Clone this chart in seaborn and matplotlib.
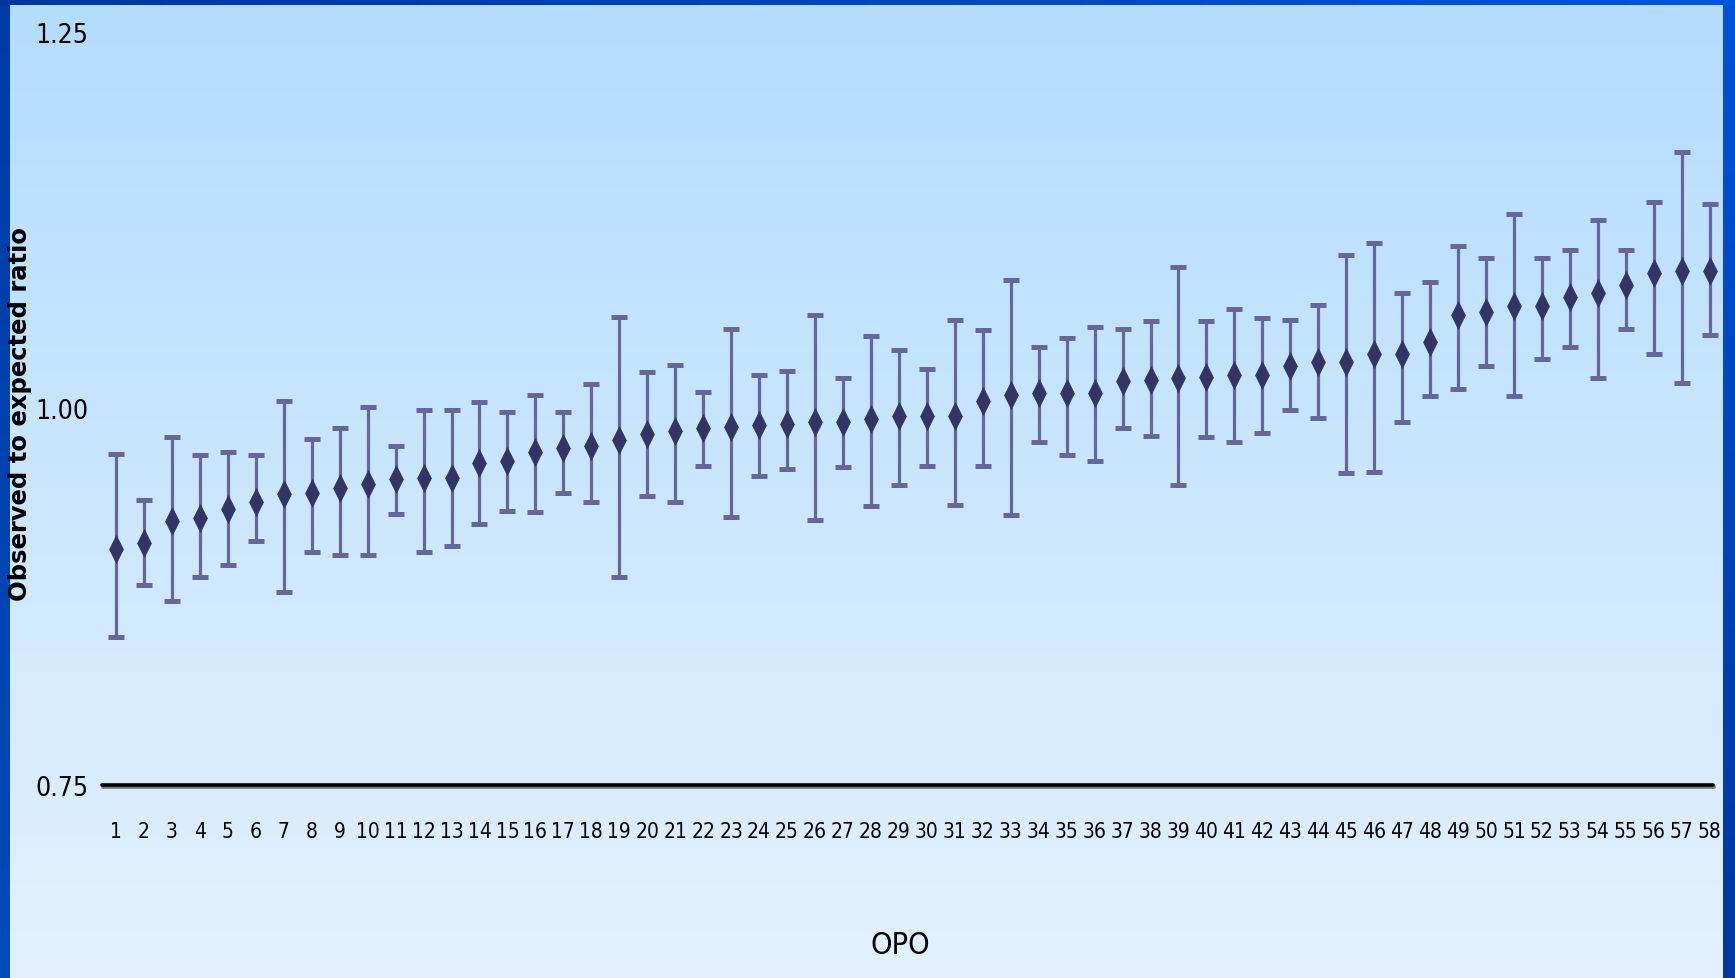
import numpy as np
import pandas as pd
import matplotlib
matplotlib.use("Agg")
import matplotlib.pyplot as plt
import matplotlib.patheffects as pe
from matplotlib.path import Path
from matplotlib import font_manager as fm
import seaborn as sns

# ---------------- data ----------------
opo = list(range(1, 59))
ratio = [0.907, 0.911, 0.925, 0.927, 0.933, 0.938, 0.943, 0.944, 0.947, 0.950,
         0.953, 0.954, 0.954, 0.964, 0.965, 0.971, 0.974, 0.975, 0.979, 0.983,
         0.985, 0.987, 0.988, 0.989, 0.990, 0.991, 0.991, 0.993, 0.995, 0.995,
         0.995, 1.005, 1.009, 1.010, 1.010, 1.010, 1.018, 1.019, 1.020, 1.021,
         1.022, 1.022, 1.028, 1.031, 1.031, 1.036, 1.036, 1.044, 1.062, 1.064,
         1.068, 1.068, 1.074, 1.077, 1.082, 1.090, 1.091, 1.091]
upper = [0.970, 0.939, 0.981, 0.969, 0.971, 0.969, 1.005, 0.980, 0.987, 1.001,
         0.975, 0.999, 0.999, 1.004, 0.998, 1.009, 0.998, 1.016, 1.061, 1.024,
         1.029, 1.011, 1.053, 1.022, 1.025, 1.062, 1.020, 1.048, 1.039, 1.026,
         1.059, 1.052, 1.085, 1.041, 1.047, 1.054, 1.053, 1.058, 1.094, 1.058,
         1.066, 1.060, 1.059, 1.069, 1.102, 1.110, 1.077, 1.084, 1.108, 1.100,
         1.129, 1.100, 1.105, 1.125, 1.105, 1.137, 1.170, 1.136]
lower = [0.848, 0.883, 0.872, 0.888, 0.896, 0.912, 0.878, 0.905, 0.903, 0.903,
         0.930, 0.905, 0.909, 0.923, 0.932, 0.931, 0.944, 0.938, 0.888, 0.942,
         0.938, 0.962, 0.928, 0.955, 0.960, 0.926, 0.961, 0.935, 0.949, 0.962,
         0.936, 0.962, 0.929, 0.978, 0.969, 0.965, 0.987, 0.982, 0.949, 0.981,
         0.978, 0.984, 0.999, 0.994, 0.957, 0.958, 0.991, 1.008, 1.013, 1.028,
         1.008, 1.033, 1.041, 1.020, 1.053, 1.036, 1.017, 1.049]
y_ticks = [0.75, 1.00, 1.25]
y_ticklabels = ["0.75", "1.00", "1.25"]
x_label = "OPO"
y_label = "Observed to expected ratio"

df = pd.DataFrame({"opo": opo, "ratio": ratio, "upper": upper, "lower": lower})

# ---------------- style ----------------
sns.set_theme(style="white")
plt.rcParams["font.family"] = ["Liberation Sans", "DejaVu Sans"]

# look for an installed narrow / condensed face for the tall, narrow labels
narrow_fp = None
for f in fm.fontManager.ttflist:
    key = (f.name + " " + f.fname).lower()
    if (("narrow" in key or "condensed" in key or f.stretch in ("condensed", "semi-condensed", "extra-condensed"))
            and f.weight in (400, "normal", "regular") and f.style == "normal"
            and "mono" not in key and "serif" not in key.replace("sans", "")):
        narrow_fp = f.fname
        break

if narrow_fp:
    def nfont(size):
        return dict(fontproperties=fm.FontProperties(fname=narrow_fp, size=size))
    xt_size, yt_size, xl_size = 15, 19, 22
else:
    def nfont(size):
        return dict(fontproperties=fm.FontProperties(family="Liberation Sans", size=size))
    xt_size, yt_size, xl_size = 14.5, 19, 22

W, H = 1735, 979
fig = plt.figure(figsize=(W / 100, H / 100), dpi=100)

# background: vertical light-blue gradient with dark-blue frame
bg = np.zeros((H, W, 3))
top_c = np.array([0xB3, 0xDC, 0xFD]) / 255
bot_c = np.array([0xE3, 0xF1, 0xFE]) / 255
t = np.linspace(0, 1, H)[:, None]
bg[:] = (top_c * (1 - t) + bot_c * t)[:, None, :]
lc_top = np.array([0x00, 0x3A, 0xA6]) / 255
lc_bot = np.array([0x00, 0x4C, 0xB8]) / 255
bg[:, :10] = (lc_top * (1 - t) + lc_bot * t)[:, None, :]
rc_top = np.array([0x00, 0x52, 0xD8]) / 255
rc_bot = np.array([0x00, 0x36, 0x9E]) / 255
bg[:, 1722:] = (rc_top * (1 - t) + rc_bot * t)[:, None, :]
s = np.linspace(0, 1, W)[None, :, None]
tc_l = np.array([0x00, 0x36, 0x9E]) / 255
tc_r = np.array([0x00, 0x56, 0xDC]) / 255
bg[:6] = tc_l * (1 - s) + tc_r * s

ax_bg = fig.add_axes([0, 0, 1, 1], zorder=-10)
ax_bg.imshow(bg, aspect="auto", interpolation="nearest")
ax_bg.set_axis_off()

# main axes positioned so that 1.25 -> y=33 px, 0.75 -> y=786 px
left_px, right_px = 102, 1712.5
top_px, bot_px = 33, 786
ax = fig.add_axes([left_px / W, (H - bot_px) / H,
                   (right_px - left_px) / W, (bot_px - top_px) / H])
ax.set_facecolor("none")

# error bars
ax.errorbar(df["opo"], df["ratio"],
            yerr=[df["ratio"] - df["lower"], df["upper"] - df["ratio"]],
            fmt="none", ecolor="#66669A", elinewidth=2.3,
            capsize=6, capthick=3.6, zorder=2, clip_on=False)

# tall diamond markers
diamond = Path([(0, 1), (0.5, 0), (0, -1), (-0.5, 0), (0, 1)],
               [Path.MOVETO, Path.LINETO, Path.LINETO, Path.LINETO, Path.CLOSEPOLY])
sns.scatterplot(data=df, x="opo", y="ratio", marker=diamond, s=400,
                color="#333366", edgecolor="#333366", linewidth=0.5,
                ax=ax, zorder=3, clip_on=False, legend=False)

ax.set_xlim(0.5, 58.1)
ax.set_ylim(0.75, 1.25)

# baseline at 0.75 with shadow
ax.axhline(0.75, color="black", lw=2.6, zorder=4, clip_on=False,
           path_effects=[pe.SimpleLineShadow(offset=(0.8, -1.6),
                                             shadow_color="#777777", alpha=1.0),
                         pe.Normal()])

for sp in ax.spines.values():
    sp.set_visible(False)

ax.set_xticks(opo)
ax.set_xticklabels([str(v) for v in opo], color="black", **nfont(xt_size))
ax.set_yticks(y_ticks)
ax.set_yticklabels(y_ticklabels, color="black", **nfont(yt_size))
ax.tick_params(axis="x", length=0, pad=26)
ax.tick_params(axis="y", length=0, pad=10)
ax.grid(False)
ax.set_xlabel("")
ax.set_ylabel("")

fig.text(900 / W, 1 - 946 / H, x_label, ha="center", va="center",
         color="black", **nfont(xl_size))
fig.text(20 / W, 1 - 414 / H, y_label, ha="center", va="center",
         rotation=90, fontsize=17.5, fontweight="bold", color="black",
         family="DejaVu Sans")

fig.savefig("out.png", dpi=100)
